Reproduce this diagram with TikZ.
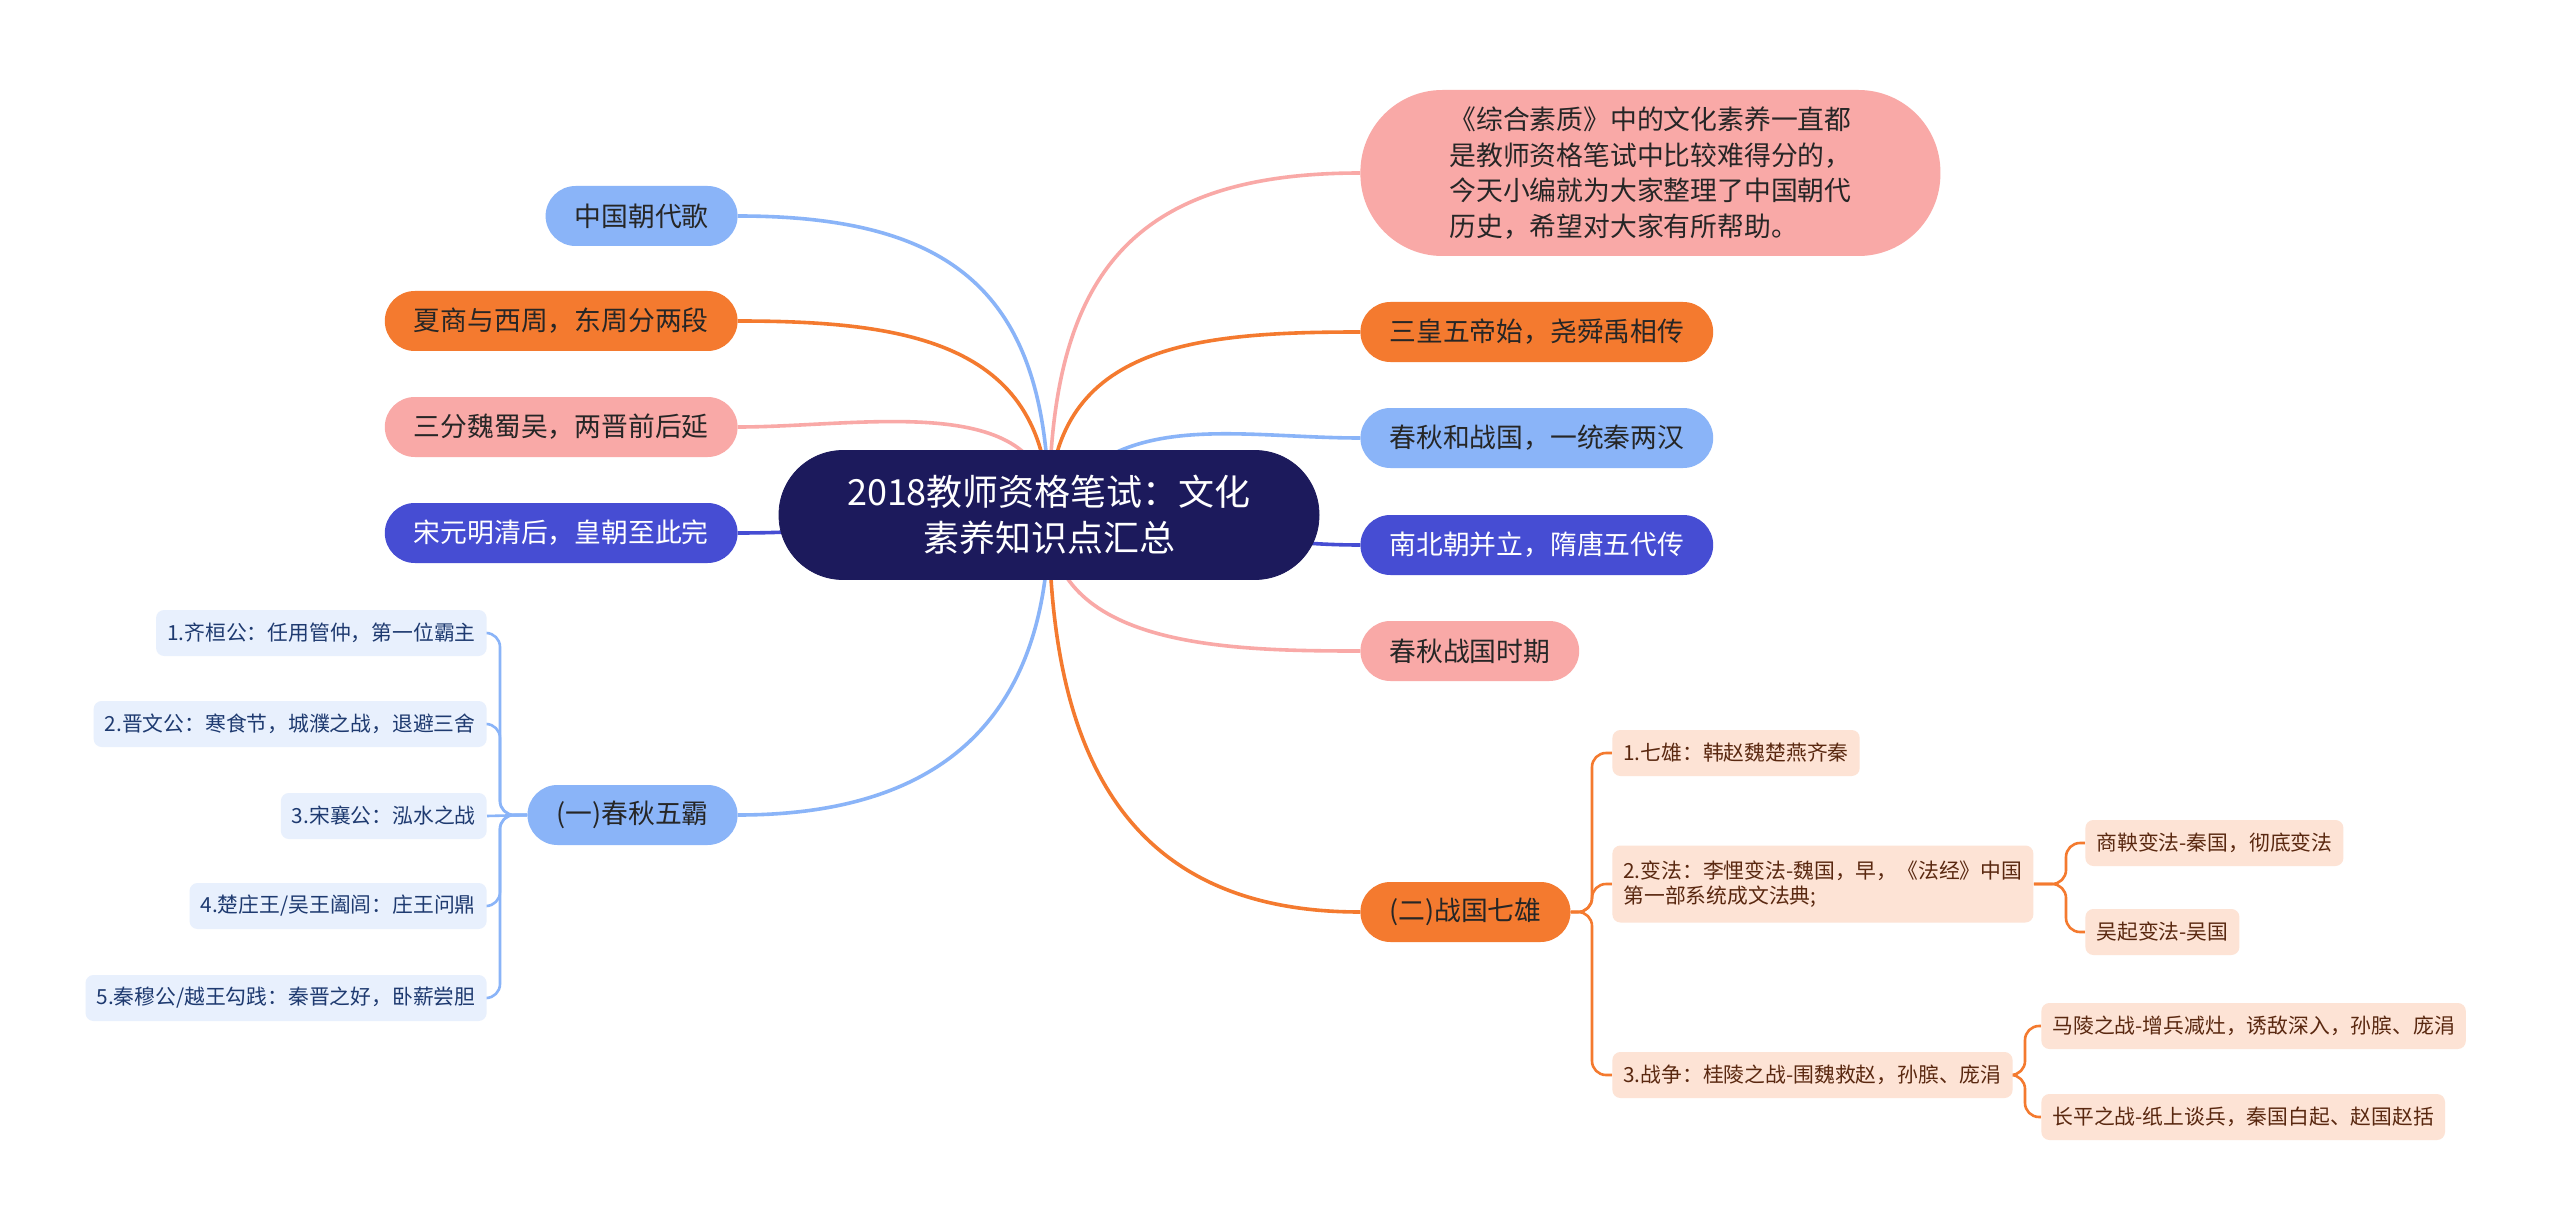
\documentclass[tikz,border=0pt]{standalone}
\usepackage{fontspec}
\setmainfont{Noto Sans CJK SC}
\usepackage{tikz}
\usetikzlibrary{positioning, backgrounds}
\definecolor{rootc}{HTML}{1C1A5C}
\definecolor{skyc}{HTML}{8AB4F8}
\definecolor{orangec}{HTML}{F47A2F}
\definecolor{pinkc}{HTML}{F9A9A7}
\definecolor{indigoc}{HTML}{464DD3}
\definecolor{skyleaf}{HTML}{E8F0FD}
\definecolor{skyink}{HTML}{1E3A70}
\definecolor{orangeleaf}{HTML}{FDE3D5}
\definecolor{orangeink}{HTML}{5A2810}
\tikzstyle{root} = [rounded corners=32pt, minimum width=270pt, minimum height=64.5pt, align=center, fill=rootc, draw=rootc, text=white, font=\fontsize{18}{23}\selectfont]
\tikzstyle{topic} = [rounded corners=15pt, minimum height=30pt, inner xsep=14.5pt, text=black!85, font=\fontsize{13.4}{17.7}\selectfont]
\tikzstyle{intro} = [rounded corners=41pt, minimum width=290pt, minimum height=83pt, align=left, fill=pinkc, text=black!85, font=\fontsize{13.4}{17.7}\selectfont]
\tikzstyle{leafb} = [rounded corners=4pt, minimum height=23pt, inner xsep=5.5pt, align=left, fill=skyleaf, text=skyink, font=\fontsize{10.4}{12.4}\selectfont]
\tikzstyle{leafo} = [rounded corners=4pt, minimum height=23pt, inner xsep=5.5pt, align=left, fill=orangeleaf, text=orangeink, font=\fontsize{10.4}{12.4}\selectfont]
\tikzstyle{branch} = [line width=1.8pt]
\tikzstyle{twig} = [line width=1.3pt, rounded corners=7pt]
\begin{document}
\begin{tikzpicture}[x=0.5pt, y=0.5pt]
\useasboundingbox (0,0) rectangle (2560,-1230);

\node (root) [root] at (1049,-515) {2018教师资格笔试：文化\\素养知识点汇总};

% left side
\node (chao) [topic, fill=skyc, anchor=east] at (738,-216) {中国朝代歌};
\node (xia) [topic, fill=orangec, anchor=east] at (738,-321) {夏商与西周，东周分两段};
\node (sanfen) [topic, fill=pinkc, anchor=east] at (738,-427) {三分魏蜀吴，两晋前后延};
\node (song) [topic, fill=indigoc, text=white, anchor=east] at (738,-533) {宋元明清后，皇朝至此完};
\node (wuba) [topic, fill=skyc, anchor=east] at (738,-815) {(一)春秋五霸};

\node (w1) [leafb, anchor=east] at (487,-633) {1.齐桓公：任用管仲，第一位霸主};
\node (w2) [leafb, anchor=east] at (487,-724) {2.晋文公：寒食节，城濮之战，退避三舍};
\node (w3) [leafb, anchor=east] at (487,-816) {3.宋襄公：泓水之战};
\node (w4) [leafb, anchor=east] at (487,-906) {4.楚庄王/吴王阖闾：庄王问鼎};
\node (w5) [leafb, anchor=east] at (487,-998) {5.秦穆公/越王勾践：秦晋之好，卧薪尝胆};

% right side
\node (intro) [intro, anchor=west] at (1360,-173) {《综合素质》中的文化素养一直都\\是教师资格笔试中比较难得分的，\\今天小编就为大家整理了中国朝代\\历史，希望对大家有所帮助。};
\node (sanhuang) [topic, fill=orangec, anchor=west] at (1360,-332) {三皇五帝始，尧舜禹相传};
\node (qinhan) [topic, fill=skyc, anchor=west] at (1360,-438) {春秋和战国，一统秦两汉};
\node (nanbei) [topic, fill=indigoc, text=white, anchor=west] at (1360,-545) {南北朝并立，隋唐五代传};
\node (shiqi) [topic, fill=pinkc, anchor=west] at (1360,-651) {春秋战国时期};
\node (qixiong) [topic, fill=orangec, anchor=west] at (1360,-912) {(二)战国七雄};

\node (q1) [leafo, anchor=west] at (1612,-753) {1.七雄：韩赵魏楚燕齐秦};
\node (q2) [leafo, anchor=west, minimum height=38.5pt] at (1612,-884) {2.变法：李悝变法-魏国，早，《法经》中国\\第一部系统成文法典;};
\node (q3) [leafo, anchor=west] at (1612,-1075) {3.战争：桂陵之战-围魏救赵，孙膑、庞涓};
\node (q2a) [leafo, anchor=west] at (2085,-843) {商鞅变法-秦国，彻底变法};
\node (q2b) [leafo, anchor=west] at (2085,-932) {吴起变法-吴国};
\node (q3a) [leafo, anchor=west] at (2041,-1026) {马陵之战-增兵减灶，诱敌深入，孙膑、庞涓};
\node (q3b) [leafo, anchor=west] at (2041,-1117) {长平之战-纸上谈兵，秦国白起、赵国赵括};

\coordinate (bw) at (500,-815);
\coordinate (bq) at (1592,-912);
\coordinate (bq2) at (2066,-884);
\coordinate (bq3) at (2025,-1075);

\begin{scope}[on background layer]
\fill [white] (0,0) rectangle (2560,-1230);
\draw [branch, draw=skyc] (root.center) to[out=90, in=0, looseness=1.3] (chao.east);
\draw [branch, draw=orangec] (root.center) to[out=90, in=0, looseness=1.2] (xia.east);
\draw [branch, draw=pinkc] (root.center) to[out=90, in=0] (sanfen.east);
\draw [branch, draw=indigoc] (root.center) to[out=180, in=0] (song.east);
\draw [branch, draw=skyc] (root.center) to[out=270, in=0, looseness=1.2] (wuba.east);
\draw [branch, draw=pinkc] (root.center) to[out=90, in=180, looseness=1.3] (intro.west);
\draw [branch, draw=orangec] (root.center) to[out=90, in=180, looseness=1.2] (sanhuang.west);
\draw [branch, draw=skyc] (root.center) to[out=60, in=180] (qinhan.west);
\draw [branch, draw=indigoc] (root.center) to[out=0, in=180] (nanbei.west);
\draw [branch, draw=pinkc] (root.center) to[out=270, in=180] (shiqi.west);
\draw [branch, draw=orangec] (root.center) to[out=270, in=180, looseness=1.2] (qixiong.west);

\draw [twig, draw=skyc] (wuba.west) -- (bw) |- (w1.east);
\draw [twig, draw=skyc] (wuba.west) -- (bw) |- (w2.east);
\draw [twig, draw=skyc] (wuba.west) -- (w3.east);
\draw [twig, draw=skyc] (wuba.west) -- (bw) |- (w4.east);
\draw [twig, draw=skyc] (wuba.west) -- (bw) |- (w5.east);

\draw [twig, draw=orangec] (qixiong.east) -- (bq) |- (q1.west);
\draw [twig, draw=orangec] (qixiong.east) -- (bq) |- (q2.west);
\draw [twig, draw=orangec] (qixiong.east) -- (bq) |- (q3.west);
\draw [twig, draw=orangec] (q2.east) -- (bq2) |- (q2a.west);
\draw [twig, draw=orangec] (q2.east) -- (bq2) |- (q2b.west);
\draw [twig, draw=orangec] (q3.east) -- (bq3) |- (q3a.west);
\draw [twig, draw=orangec] (q3.east) -- (bq3) |- (q3b.west);
\end{scope}

\end{tikzpicture}
\end{document}
